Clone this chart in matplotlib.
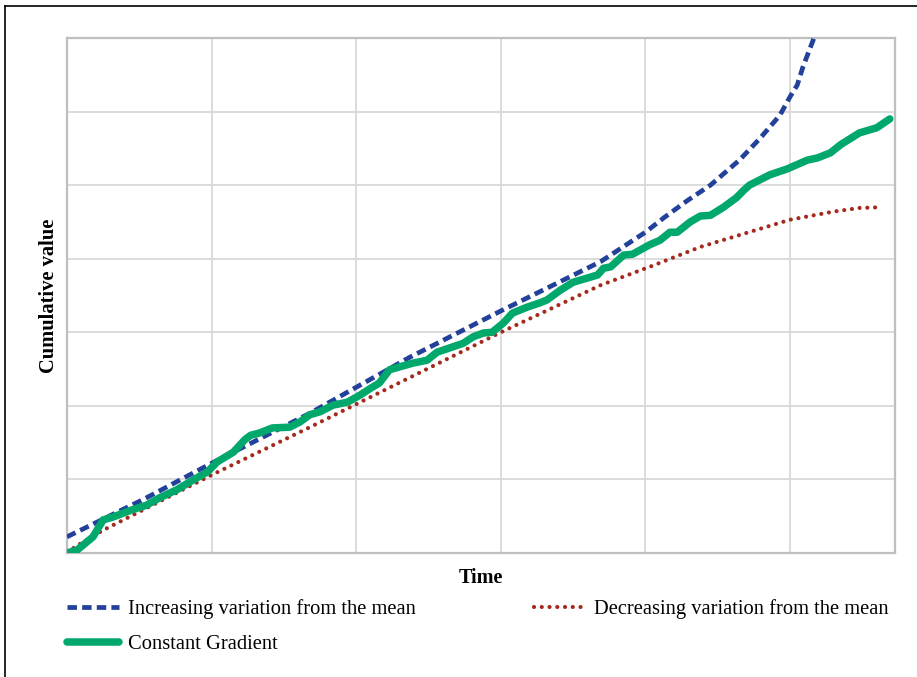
import matplotlib
matplotlib.use('Agg')
import matplotlib.pyplot as plt
from matplotlib.lines import Line2D

# ---[DATA]--- (x in grid columns, y in grid rows)
inc_x = [0.00, 0.53, 1.00, 1.68, 2.37, 2.99, 3.69, 4.00, 4.13, 4.29, 4.45, 4.55,
         4.65, 4.79, 4.86, 4.93, 5.00, 5.05, 5.09, 5.16, 5.19]
inc_y = [0.22, 0.73, 1.22, 1.90, 2.66, 3.28, 3.96, 4.36, 4.56, 4.79, 5.00, 5.17,
         5.34, 5.63, 5.79, 5.95, 6.20, 6.36, 6.61, 6.97, 7.18]

dec_x = [0.00, 0.07, 0.25, 1.00, 1.68, 2.99, 3.69, 4.03, 4.38, 5.00, 5.30, 5.48, 5.64]
dec_y = [0.01, 0.10, 0.31, 1.06, 1.71, 2.99, 3.64, 3.89, 4.16, 4.53, 4.64, 4.69, 4.70]

const_x = [0.00, 0.07, 0.18, 0.25, 0.32, 0.44, 0.55, 0.64, 0.76, 0.87, 0.97, 1.04,
           1.15, 1.23, 1.27, 1.33, 1.42, 1.54, 1.61, 1.68, 1.75, 1.84, 1.94, 2.03,
           2.10, 2.16, 2.23, 2.30, 2.39, 2.49, 2.56, 2.65, 2.74, 2.81, 2.88, 2.94,
           3.02, 3.08, 3.18, 3.27, 3.32, 3.41, 3.50, 3.62, 3.67, 3.71, 3.76, 3.85,
           3.91, 4.03, 4.10, 4.17, 4.22, 4.31, 4.38, 4.45, 4.54, 4.63, 4.68, 4.72,
           4.86, 4.98, 5.12, 5.19, 5.28, 5.35, 5.48, 5.60, 5.69]
const_y = [0.00, 0.04, 0.22, 0.45, 0.49, 0.58, 0.65, 0.75, 0.86, 0.99, 1.10, 1.24,
           1.37, 1.54, 1.60, 1.63, 1.70, 1.71, 1.78, 1.88, 1.92, 2.01, 2.05, 2.15,
           2.24, 2.31, 2.49, 2.53, 2.58, 2.62, 2.73, 2.79, 2.85, 2.94, 2.99, 3.00,
           3.13, 3.26, 3.34, 3.40, 3.44, 3.57, 3.68, 3.75, 3.78, 3.87, 3.89, 4.05,
           4.06, 4.19, 4.25, 4.36, 4.36, 4.50, 4.58, 4.59, 4.70, 4.83, 4.93, 5.00,
           5.14, 5.22, 5.34, 5.37, 5.44, 5.55, 5.71, 5.78, 5.90]

labels = ['Increasing variation from the mean', 'Constant Gradient',
          'Decreasing variation from the mean']
x_title = 'Time'
y_title = 'Cumulative value'
# ---------------

BLUE = '#23409a'
RED = '#a52a1e'
GREEN = '#00a86b'
GRID = '#d9d9d9'
FRAME = '#bfbfbf'

plt.rcParams['font.family'] = ['Liberation Serif', 'DejaVu Serif']

fig = plt.figure(figsize=(9.17, 6.77), dpi=100)
ax = fig.add_axes([67 / 917, 124 / 677, 828 / 917, 515 / 677])

l_inc, = ax.plot(inc_x, inc_y, color=BLUE, lw=3.4, dashes=(2.0, 1.1),
                 dash_capstyle='butt', label=labels[0], zorder=3)
l_const, = ax.plot(const_x, const_y, color=GREEN, lw=5.4, solid_capstyle='round',
                   solid_joinstyle='round', label=labels[1], zorder=4)
l_dec, = ax.plot(dec_x, dec_y, color=RED, lw=3.0, dashes=(0.01, 1.85),
                 dash_capstyle='round', label=labels[2], zorder=3)

ax.set_xlim(0, 828 / 144.6)
ax.set_ylim(0, 7)
ax.set_xticks(range(0, 6))
ax.set_yticks(range(0, 8))
ax.tick_params(length=0, labelleft=False, labelbottom=False)
ax.grid(True, color=GRID, lw=1.3)
ax.set_axisbelow(True)
for s in ax.spines.values():
    s.set_color(FRAME)
    s.set_linewidth(1.6)

ax.set_xlabel(x_title, fontsize=14.5, fontweight='bold', labelpad=11)
ax.set_ylabel(y_title, fontsize=14.8, fontweight='bold', labelpad=6)

fig.legend(handles=[l_inc, l_const, l_dec], loc='upper left',
           bbox_to_anchor=(67 / 917, 1 - 599 / 677), ncol=2, frameon=False,
           fontsize=14.8, handlelength=2.55, handletextpad=0.4,
           columnspacing=5.75, labelspacing=0.75, borderpad=0, borderaxespad=0)

# outer frame (only left and top edges are visible in the crop)
fig.add_artist(Line2D([5 / 917, 5 / 917], [0, 1 - 6 / 677], color='black', lw=1.2,
                      transform=fig.transFigure))
fig.add_artist(Line2D([5 / 917, 1], [1 - 6 / 677, 1 - 6 / 677], color='black', lw=1.2,
                      transform=fig.transFigure))

fig.savefig('out.png', dpi=100)
